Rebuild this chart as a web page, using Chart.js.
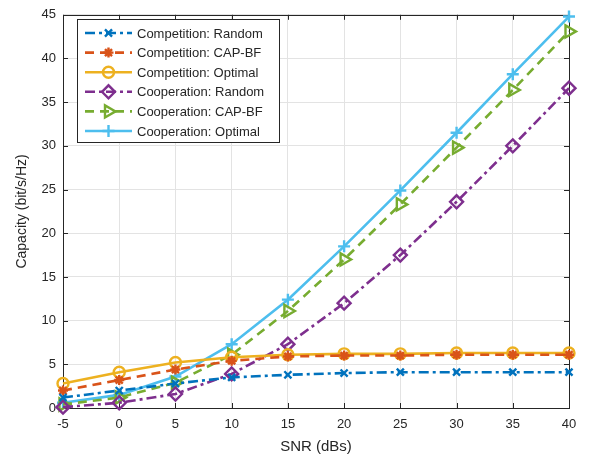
<!DOCTYPE html>
<html>
<head>
<meta charset="utf-8">
<script src="https://cdn.jsdelivr.net/npm/chart.js@4/dist/chart.umd.min.js"></script>
<style>
  html, body { margin: 0; padding: 0; background: #fff; }
  #wrap { width: 589px; height: 461px; }
</style>
</head>
<body>
<div id="wrap"><canvas id="capChart" width="589" height="461"></canvas></div>
<script>
// SNR values (dBs)
var snr = [-5, 0, 5, 10, 15, 20, 25, 30, 35, 40];

// capacity (bit/s/Hz)
var compRandom  = [1.2, 2.0, 2.8, 3.5, 3.8, 4.0, 4.1, 4.1, 4.1, 4.1];
var compCapbf   = [2.0, 3.2, 4.4, 5.4, 5.9, 6.0, 6.0, 6.1, 6.1, 6.1];
var compOptimal = [2.8, 4.1, 5.2, 5.8, 6.1, 6.2, 6.2, 6.3, 6.3, 6.3];
var coopRandom  = [0.1, 0.6, 1.6, 3.9, 7.3, 12.0, 17.5, 23.6, 30.0, 36.6];
var coopCapbf   = [0.4, 1.2, 2.9, 6.1, 11.1, 17.0, 23.3, 29.8, 36.4, 43.1];
var coopOptimal = [0.6, 1.5, 3.6, 7.3, 12.4, 18.5, 24.9, 31.5, 38.2, 44.8];

var seriesNames = [
    'Competition: Random',
    'Competition: CAP-BF',
    'Competition: Optimal',
    'Cooperation: Random',
    'Cooperation: CAP-BF',
    'Cooperation: Optimal'
];

var xTicks = [-5, 0, 5, 10, 15, 20, 25, 30, 35, 40];
var yTicks = [0, 5, 10, 15, 20, 25, 30, 35, 40, 45];

var FONT = "'Liberation Sans', Arial, sans-serif";
var AXIS = '#262626';
var GRID = '#e3e3e3';
var DASHDOT = [10, 4, 3, 4];
var DASHED = [9, 6];

function pts(ys) {
    return snr.map(function (x, i) { return {x: x, y: ys[i]}; });
}

function series(label, ys, color, dash, style, rot, radius) {
    return {
        label: label,
        data: pts(ys),
        borderColor: color,
        backgroundColor: color,
        borderWidth: 2.6,
        borderDash: dash,
        pointStyle: style,
        rotation: rot || 0,
        pointRadius: radius,
        pointBorderWidth: 2.4,
        pointBorderColor: color,
        pointBackgroundColor: 'rgba(0,0,0,0)',
        tension: 0,
        fill: false,
        clip: false
    };
}

var datasets = [
    series(seriesNames[0], compRandom, '#0072BD', DASHDOT, 'crossRot', 0, 5),
    series(seriesNames[1], compCapbf, '#D95319', DASHED, 'star', 0, 5),
    series(seriesNames[2], compOptimal, '#EDB120', [], 'circle', 0, 5.5),
    series(seriesNames[3], coopRandom, '#7E2F8E', DASHDOT, 'rectRot', 0, 6.5),
    series(seriesNames[4], coopCapbf, '#77AC30', DASHED, 'triangle', 90, 7),
    series(seriesNames[5], coopOptimal, '#4DBEEE', [], 'cross', 0, 6)
];

// box around the axes, inward ticks, and the legend inside the plot
var boxPlugin = {
    id: 'matlabBox',
    beforeDatasetsDraw: function (chart) {
        var ctx = chart.ctx, a = chart.chartArea;
        var xs = chart.scales.x, ys = chart.scales.y;
        ctx.save();
        ctx.strokeStyle = AXIS;
        ctx.lineWidth = 1;
        ctx.beginPath();
        xTicks.forEach(function (t) {
            var px = Math.round(xs.getPixelForValue(t)) + 0.5;
            ctx.moveTo(px, a.bottom); ctx.lineTo(px, a.bottom - 5);
            ctx.moveTo(px, a.top); ctx.lineTo(px, a.top + 5);
        });
        yTicks.forEach(function (t) {
            var py = Math.round(ys.getPixelForValue(t)) + 0.5;
            ctx.moveTo(a.left, py); ctx.lineTo(a.left + 5, py);
            ctx.moveTo(a.right, py); ctx.lineTo(a.right - 5, py);
        });
        ctx.stroke();
        ctx.strokeRect(Math.round(a.left) + 0.5, Math.round(a.top) + 0.5,
            Math.round(a.right - a.left), Math.round(a.bottom - a.top));
        ctx.restore();
    },
    afterDatasetsDraw: function (chart) {
        var ctx = chart.ctx;
        var bx = 77, by = 19, bw = 202, bh = 123;
        ctx.save();
        ctx.fillStyle = '#fff';
        ctx.fillRect(bx, by, bw, bh);
        ctx.strokeStyle = AXIS;
        ctx.lineWidth = 1;
        ctx.strokeRect(bx + 0.5, by + 0.5, bw, bh);
        ctx.font = '13px ' + FONT;
        ctx.textBaseline = 'middle';
        chart.data.datasets.forEach(function (ds, i) {
            var y = 33 + i * 19.6;
            ctx.strokeStyle = ds.borderColor;
            ctx.lineWidth = ds.borderWidth;
            ctx.setLineDash(ds.borderDash);
            ctx.beginPath();
            ctx.moveTo(85, y); ctx.lineTo(132, y);
            ctx.stroke();
            ctx.setLineDash([]);
            ctx.lineWidth = ds.pointBorderWidth;
            ctx.fillStyle = 'rgba(0,0,0,0)';
            Chart.helpers.drawPoint(ctx, {
                pointStyle: ds.pointStyle,
                rotation: ds.rotation,
                radius: ds.pointRadius,
                borderWidth: ds.pointBorderWidth
            }, 108.5, y);
            ctx.fillStyle = AXIS;
            ctx.fillText(ds.label, 137, y + 1);
        });
        ctx.restore();
    }
};

var capChart = new Chart(document.getElementById('capChart'), {
    type: 'line',
    data: { datasets: datasets },
    options: {
        responsive: false,
        animation: false,
        devicePixelRatio: 1,
        layout: { padding: { left: 0, right: 20, top: 8, bottom: 0 } },
        plugins: {
            legend: { display: false },
            tooltip: { enabled: false }
        },
        scales: {
            x: {
                type: 'linear',
                min: -5,
                max: 40,
                afterBuildTicks: function (s) { s.ticks = xTicks.map(function (v) { return {value: v}; }); },
                afterFit: function (s) { s.height = 53; },
                grid: { color: GRID, drawTicks: false },
                border: { display: false },
                ticks: { color: AXIS, padding: 9, font: { family: FONT, size: 13 } },
                title: {
                    display: true, text: 'SNR (dBs)', color: AXIS,
                    font: { family: FONT, size: 15 }, padding: { top: 0, bottom: 5 }
                }
            },
            y: {
                type: 'linear',
                min: 0,
                max: 45,
                afterBuildTicks: function (s) { s.ticks = yTicks.map(function (v) { return {value: v}; }); },
                afterFit: function (s) { s.width = 63; },
                grid: { color: GRID, drawTicks: false },
                border: { display: false },
                ticks: { color: AXIS, padding: 7, font: { family: FONT, size: 13 } },
                title: {
                    display: true, text: 'Capacity (bit/s/Hz)', color: AXIS,
                    font: { family: FONT, size: 14 }, padding: { top: 14, bottom: 0 }
                }
            }
        }
    },
    plugins: [boxPlugin]
});
</script>
</body>
</html>
